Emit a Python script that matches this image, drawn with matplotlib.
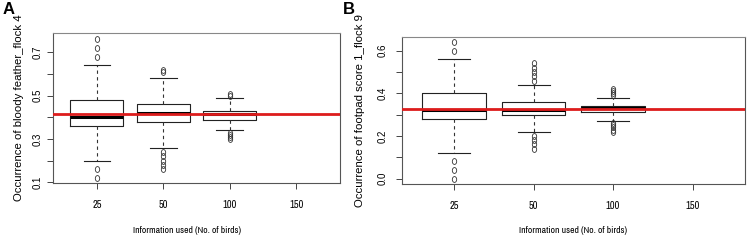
import numpy as np
import matplotlib.pyplot as plt
from matplotlib.path import Path
from matplotlib.transforms import Affine2D

# x categories (number of birds used)
birds = ['25', '50', '100', '150']
box_pos = [1, 2, 3]

# panel A: bloody feather, flock 4
med_a = [0.40, 0.42, 0.415]
q1_a = [0.36, 0.38, 0.39]
q3_a = [0.48, 0.46, 0.43]
lo_a = [0.20, 0.26, 0.34]
hi_a = [0.64, 0.58, 0.49]
fliers_a = [[0.12, 0.16, 0.68, 0.72, 0.76],
            [0.16, 0.18, 0.20, 0.22, 0.24, 0.61, 0.62],
            [0.30, 0.31, 0.32, 0.33, 0.50, 0.51]]
ref_a = 0.416

# panel B: footpad score 1, flock 9
med_b = [0.32, 0.32, 0.33]
q1_b = [0.28, 0.30, 0.31]
q3_b = [0.40, 0.36, 0.34]
lo_b = [0.12, 0.22, 0.27]
hi_b = [0.56, 0.44, 0.38]
fliers_b = [[0.00, 0.04, 0.08, 0.60, 0.64],
            [0.14, 0.16, 0.18, 0.20, 0.46, 0.48, 0.50, 0.52, 0.54],
            [0.22, 0.23, 0.24, 0.25, 0.26, 0.39, 0.40, 0.41, 0.42]]
ref_b = 0.328

narrow = ['Liberation Sans Narrow', 'Archivo Narrow', 'Liberation Sans', 'DejaVu Sans']
regular = ['Liberation Sans', 'DejaVu Sans']

oval = Path.unit_circle().transformed(Affine2D().scale(0.75, 1.0))


def panel(ax, med, q1, q3, lo, hi, fliers, ref, yticks, ylim, ylabel, ytick_pad):
    stats = []
    for i in range(len(med)):
        stats.append(dict(med=med[i], q1=q1[i], q3=q3[i], whislo=lo[i],
                          whishi=hi[i], fliers=fliers[i]))
    ax.bxp(stats, positions=box_pos, widths=0.8, capwidths=0.4,
           boxprops=dict(color='#222222', lw=0.8),
           whiskerprops=dict(color='#333333', lw=0.8, linestyle=(0, (3, 3))),
           capprops=dict(color='#222222', lw=0.8),
           medianprops=dict(color='black', lw=2.2, solid_capstyle='butt'),
           flierprops=dict(marker=oval, markersize=4.2, markerfacecolor='none',
                           markeredgecolor='#333333', markeredgewidth=0.6))
    ax.axhline(ref, color='#dd1c1c', lw=2.0, zorder=5)
    ax.set_xlim(0.34, 4.66)
    ax.set_ylim(*ylim)
    ax.set_xticks([1, 2, 3, 4], birds, family=narrow, fontsize=7.5)
    labels = [f'{v:.1f}' if k % 2 == 0 else '' for k, v in enumerate(yticks)]
    ax.set_yticks(yticks, labels, family=regular, fontsize=7,
                  rotation=90, va='center')
    ax.tick_params(axis='x', length=4, width=0.7, color='#444444', pad=8)
    ax.tick_params(axis='y', length=4, width=0.7, color='#444444', pad=ytick_pad)
    for s in ax.spines.values():
        s.set_color('#555555')
        s.set_linewidth(0.8)
    ax.spines['top'].set_color('#888888')
    ax.set_ylabel(ylabel, family=regular, fontsize=8.2, va='center')
    ax.set_xlabel('Information used (No. of birds)', family=narrow,
                  fontsize=6.9, va='center')


fig = plt.figure(figsize=(7.47, 2.40), dpi=100)
ax_a = fig.add_axes([53 / 747, 57 / 240, 287 / 747, 150 / 240])
ax_b = fig.add_axes([401.7 / 747, 56 / 240, 343.3 / 747, 147.3 / 240])

panel(ax_a, med_a, q1_a, q3_a, lo_a, hi_a, fliers_a, ref_a,
      [0.1, 0.2, 0.3, 0.4, 0.5, 0.6, 0.7], (0.097, 0.790),
      'Occurrence of bloody feather_flock 4', 3.5)
panel(ax_b, med_b, q1_b, q3_b, lo_b, hi_b, fliers_b, ref_b,
      [0.0, 0.1, 0.2, 0.3, 0.4, 0.5, 0.6], (-0.0256, 0.6656),
      'Occurrence of footpad score 1_flock 9', 6)

ax_a.yaxis.set_label_coords(-0.118, 0.5)
ax_a.xaxis.set_label_coords(0.467, -0.315)
ax_b.yaxis.set_label_coords(-0.121, 0.5)
ax_b.xaxis.set_label_coords(0.5, -0.315)

fig.text(8.5 / 747, 1 - 10 / 240, 'A', fontsize=12, fontweight='bold',
         family=regular, ha='center', va='center')
fig.text(349 / 747, 1 - 9 / 240, 'B', fontsize=12, fontweight='bold',
         family=regular, ha='center', va='center')

fig.savefig('out.png', dpi=100)
